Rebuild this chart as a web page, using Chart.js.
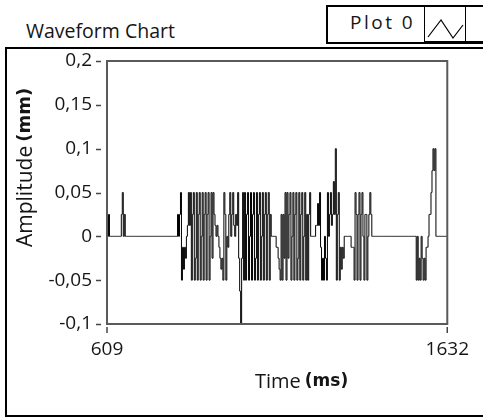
<!DOCTYPE html>
<html>
<head>
<meta charset="utf-8">
<script src="https://cdn.jsdelivr.net/npm/chart.js@4.4.1/dist/chart.umd.min.js"></script>
<style>
html,body{margin:0;padding:0;background:#fff;}
#wrap{position:relative;width:483px;height:419px;overflow:hidden;background:#fff;font-family:"Open Sans",sans-serif;color:#151515;}
#frame{position:absolute;left:5px;top:47px;width:600px;height:370px;border:2px solid #000;box-sizing:border-box;}
#title{position:absolute;left:26px;top:21px;font-size:19.5px;line-height:1;white-space:nowrap;}
#legbox{position:absolute;left:326px;top:5px;width:300px;height:39px;border:2px solid #000;box-sizing:border-box;background:#fff;}
#legtext{position:absolute;left:350px;top:13px;font-size:19px;line-height:1;letter-spacing:2.5px;white-space:nowrap;}
#legicon{position:absolute;left:424px;top:6px;width:42px;height:36px;border:1px solid #000;box-sizing:border-box;}
#legicon2{position:absolute;left:465px;top:6px;width:60px;height:36px;border:1px solid #000;box-sizing:border-box;}
canvas{position:absolute;left:0;top:0;}
</style>
</head>
<body>
<div id="wrap">
  <div id="frame"></div>
  <div id="title">Waveform Chart</div>
  <div id="legbox"></div>
  <div id="legicon"><svg width="40" height="34" style="position:absolute;left:0;top:0"><polyline points="3,30 16,13 28,31 38,18" fill="none" stroke="#000" stroke-width="1.2"/></svg></div>
  <div id="legicon2"></div>
  <div id="legtext">Plot 0</div>
  <canvas id="c" width="483" height="419"></canvas>
</div>
<script>
// ---- data ----
const timeStart = 609;   // ms
const timeEnd = 1632;    // ms
const seriesName = 'Plot 0';
const amplitudes = [
  0.025, 0, 0.025, 0, 0, 0, 0, 0, 0, 0,
  0, 0, 0, 0, 0, 0.025, 0.05, 0, 0.025, 0,
  0, 0, 0, 0, 0, 0, 0, 0, 0, 0,
  0, 0, 0, 0, 0, 0, 0, 0, 0, 0,
  0, 0, 0, 0, 0, 0, 0, 0, 0, 0,
  0, 0, 0, 0, 0, 0, 0, 0, 0, 0,
  0, 0, 0, 0, 0, 0, 0, 0, 0, 0,
  0, 0, 0.025, 0, 0.025, 0.05, -0.05, -0.0125, -0.0375, -0.0125,
  -0.025, 0, 0.0125, 0.05, 0.0125, 0.05, -0.05, 0.025, 0.05, -0.05,
  -0.025, 0.05, -0.05, 0.025, 0.05, -0.05, 0, 0.05, -0.05, 0.025,
  0.05, -0.05, 0.025, 0.05, -0.05, 0, 0.05, -0.025, 0.05, 0.025,
  0.0125, 0, 0.0125, 0, -0.0125, -0.025, -0.0375, -0.025, -0.05, 0.05,
  0.025, -0.05, 0, -0.0125, 0.025, 0.05, 0, 0.025, 0.05, 0.0125,
  0, 0.025, 0.0125, 0.05, -0.025, -0.0625, -0.1, -0.025, 0.05, -0.05,
  0.05, -0.05, 0.025, 0.05, -0.05, 0, 0.05, -0.05, 0.025, 0.05,
  -0.05, -0.025, 0.05, -0.05, 0.025, 0.05, -0.05, 0, 0.05, -0.05,
  0.025, 0.05, -0.05, 0.025, 0.05, -0.05, 0.025, 0, 0, 0,
  0, 0, -0.0125, -0.0125, -0.025, -0.0375, -0.05, 0.025, -0.05, 0.025,
  -0.025, 0.05, -0.05, 0.05, -0.025, 0.025, 0.05, -0.05, 0, 0.05,
  -0.05, 0.025, 0.05, -0.05, -0.025, 0.05, -0.05, 0.025, 0.05, -0.05,
  0, 0.05, -0.05, 0.025, -0.05, 0.025, 0.05, 0, 0, 0,
  0, 0, 0.0125, 0.0125, 0.0375, 0.0125, 0.05, -0.0125, -0.05, -0.025,
  -0.05, 0, -0.025, -0.05, 0.05, 0, 0.025, 0.05, 0.0125, 0.025,
  0.0625, 0.025, 0.1, -0.05, 0.025, 0.05, -0.05, -0.0125, -0.0375, -0.0125,
  -0.025, 0, 0, 0, 0, 0, 0, 0, -0.0125, -0.0125,
  -0.0125, -0.05, 0.05, 0.025, -0.05, 0.025, 0.05, -0.05, 0.025, 0.05,
  0, -0.05, 0.025, 0.025, -0.05, 0, 0.025, 0.05, 0.025, 0,
  0, 0, 0, 0, 0, 0, 0, 0, 0, 0,
  0, 0, 0, 0, 0, 0, 0, 0, 0, 0,
  0, 0, 0, 0, 0, 0, 0, 0, 0, 0,
  0, 0, 0, 0, 0, 0, 0, 0, 0, 0,
  0, 0, 0, 0, -0.05, 0, -0.05, -0.025, -0.05, 0,
  -0.025, -0.05, -0.025, -0.05, -0.0125, -0.0125, 0, 0.025, 0.025, 0.05,
  0.075, 0.1, 0.075, 0.1, 0, 0, 0, 0, 0, 0,
  0, 0, 0, 0, 0, 0
];
const yTickValues = [0.2, 0.15, 0.1, 0.05, 0, -0.05, -0.1];
const yTickLabels = ['0,2', '0,15', '0,1', '0,05', '0', '-0,05', '-0,1'];
const xTickValues = [609, 1632];
const xTickLabels = ['609', '1632'];
const xTitle = ['Time', '(ms)'];
const yTitle = ['Amplitude', '(mm)'];

// waveform timing (t0 + dt)
const dt = (timeEnd - timeStart) / (amplitudes.length - 1);
const points = amplitudes.map((v, i) => ({ x: timeStart + i * dt, y: v }));

const decor = {
  id: 'decor',
  afterDatasetsDraw(chart) {
    const ctx = chart.ctx;
    const a = chart.chartArea;
    const xs = chart.scales.x, ys = chart.scales.y;
    ctx.save();
    // plot border
    ctx.strokeStyle = '#5a5a5a';
    ctx.lineWidth = 2;
    ctx.strokeRect(a.left, a.top, a.right - a.left, a.bottom - a.top);
    // y tick dashes
    ctx.strokeStyle = '#444';
    ctx.lineWidth = 1.5;
    yTickValues.forEach(v => {
      const y = Math.round(ys.getPixelForValue(v)) + 0.5;
      ctx.beginPath(); ctx.moveTo(a.left - 11, y); ctx.lineTo(a.left - 6, y); ctx.stroke();
    });
    // x tick marks
    xTickValues.forEach(v => {
      const x = xs.getPixelForValue(v);
      ctx.beginPath(); ctx.moveTo(x, a.bottom + 3); ctx.lineTo(x, a.bottom + 9); ctx.stroke();
    });
    // axis titles
    ctx.fillStyle = '#151515';
    ctx.textBaseline = 'alphabetic';
    ctx.textAlign = 'left';
    ctx.font = '20px "Open Sans"';
    const xTx = 255, xTy = 388;
    ctx.fillText(xTitle[0], xTx, xTy);
    const w1 = ctx.measureText(xTitle[0]).width;
    ctx.font = 'bold 17px "DejaVu Sans"';
    ctx.fillText(xTitle[1], xTx + w1 + 4, xTy - 2);
    // y title rotated
    ctx.translate(32, 247);
    ctx.rotate(-Math.PI / 2);
    ctx.font = '21px "Open Sans"';
    ctx.fillText(yTitle[0], 0, 0);
    const w2 = ctx.measureText(yTitle[0]).width;
    ctx.font = 'bold 18px "DejaVu Sans"';
    ctx.fillText(yTitle[1], w2 + 4, -2);
    ctx.restore();
  }
};

function build() {
  new Chart(document.getElementById('c'), {
    type: 'line',
    data: {
      datasets: [{
        label: seriesName,
        data: points,
        borderColor: '#000',
        borderWidth: 1,
        pointRadius: 0,
        stepped: 'middle',
        fill: false
      }]
    },
    options: {
      responsive: false,
      animation: false,
      events: [],
      layout: { padding: { left: 0, right: 30, top: 61, bottom: 0 } },
      plugins: { legend: { display: false }, tooltip: { enabled: false }, title: { display: false } },
      scales: {
        x: {
          type: 'linear',
          min: timeStart,
          max: timeEnd,
          afterBuildTicks: s => { s.ticks = xTickValues.map(v => ({ value: v })); },
          afterFit: s => { s.height = 95; },
          grid: { display: false, drawTicks: false },
          border: { display: false },
          ticks: {
            autoSkip: false, maxRotation: 0, padding: 14,
            color: '#151515', font: { family: 'Open Sans', size: 19 },
            callback: (v, i) => xTickLabels[i]
          }
        },
        y: {
          min: -0.1,
          max: 0.2,
          afterBuildTicks: s => { s.ticks = yTickValues.map(v => ({ value: v })); },
          afterFit: s => { s.width = 107; },
          grid: { display: false, drawTicks: false },
          border: { display: false },
          ticks: {
            autoSkip: false, padding: 15,
            color: '#151515', font: { family: 'Open Sans', size: 19 },
            callback: (v, i) => yTickLabels[i]
          }
        }
      }
    },
    plugins: [decor]
  });
}
if (document.fonts && document.fonts.load) {
  Promise.all([
    document.fonts.load('19px "Open Sans"'),
    document.fonts.load('bold 16px "DejaVu Sans"')
  ]).then(build, build);
} else { build(); }
</script>
</body>
</html>
